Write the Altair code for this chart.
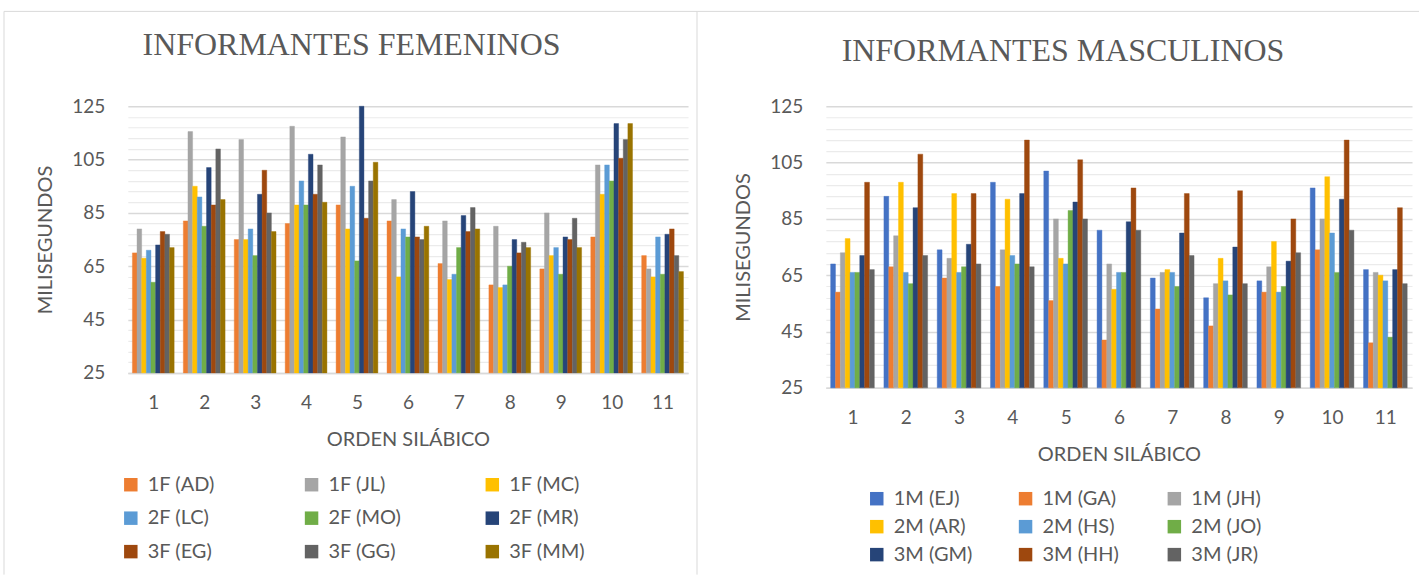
import altair as alt
import pandas as pd

# Syllable position (x categories)
silabas = [str(i) for i in range(1, 12)]

# ---- Female speakers: duration in ms per syllable position ----
fem_series = ["1F (AD)", "1F (JL)", "1F (MC)", "2F (LC)", "2F (MO)",
              "2F (MR)", "3F (EG)", "3F (GG)", "3F (MM)"]
fem_colors = ["#ED7D31", "#A5A5A5", "#FFC000", "#5B9BD5", "#70AD47",
              "#264478", "#9E480E", "#636363", "#997300"]
f_ad = [70, 82, 75, 81, 88, 82, 66, 58, 64, 76, 69]
f_jl = [79, 115.5, 112.5, 117.5, 113.5, 90, 82, 80, 85, 103, 64]
f_mc = [68, 95, 75, 88, 79, 61, 60, 57, 69, 92, 61]
f_lc = [71, 91, 79, 97, 95, 79, 62, 58, 72, 103, 76]
f_mo = [59, 80, 69, 88, 67, 76, 72, 65, 62, 97, 62]
f_mr = [73, 102, 92, 107, 125, 93, 84, 75, 76, 118.5, 77]
f_eg = [78, 88, 101, 92, 83, 76, 78, 70, 75, 105.5, 79]
f_gg = [77, 109, 85, 103, 97, 75, 87, 74, 83, 112.5, 69]
f_mm = [72, 90, 78, 89, 104, 80, 79, 72, 72, 118.5, 63]
fem_values = [f_ad, f_jl, f_mc, f_lc, f_mo, f_mr, f_eg, f_gg, f_mm]

# ---- Male speakers ----
mas_series = ["1M (EJ)", "1M (GA)", "1M (JH)", "2M (AR)", "2M (HS)",
              "2M (JO)", "3M (GM)", "3M (HH)", "3M (JR)"]
mas_colors = ["#4472C4", "#ED7D31", "#A5A5A5", "#FFC000", "#5B9BD5",
              "#70AD47", "#264478", "#9E480E", "#636363"]
m_ej = [69, 93, 74, 98, 102, 81, 64, 57, 63, 96, 67]
m_ga = [59, 68, 64, 61, 56, 42, 53, 47, 59, 74, 41]
m_jh = [73, 79, 71, 74, 85, 69, 66, 62, 68, 85, 66]
m_ar = [78, 98, 94, 92, 71, 60, 67, 71, 77, 100, 65]
m_hs = [66, 66, 66, 72, 69, 66, 66, 63, 59, 80, 63]
m_jo = [66, 62, 68, 69, 88, 66, 61, 58, 61, 66, 43]
m_gm = [72, 89, 76, 94, 91, 84, 80, 75, 70, 92, 67]
m_hh = [98, 108, 94, 113, 106, 96, 94, 95, 85, 113, 89]
m_jr = [67, 72, 69, 68, 85, 81, 72, 62, 73, 81, 62]
mas_values = [m_ej, m_ga, m_jh, m_ar, m_hs, m_jo, m_gm, m_hh, m_jr]

y_ticks = list(range(25, 126, 4))

TEXT = "#595959"
GRID_MAJOR = "#d9d9d9"
GRID_MINOR = "#ebebeb"
SANS = "Lato"

# Share of each syllable slot taken by its cluster of bars
CLUSTER = 0.82


def long_table(series, values):
    rows = []
    for j, (name, vals) in enumerate(zip(series, values)):
        for i, (s, v) in enumerate(zip(silabas, vals)):
            rows.append({"silaba": s, "i": i, "j": j, "serie": name, "ms": v})
    return pd.DataFrame(rows)


def frame_rule(**enc):
    return alt.Chart(pd.DataFrame({"borde": [0]})).mark_rule(
        color="#d9d9d9", strokeWidth=1
    ).encode(**enc)


def panel(series, values, colors, title, width, height, title_offset,
          title_dx, legend_x, legend_y, col_pad, row_pad, rules):
    df = long_table(series, values)
    n = len(series)
    slot = CLUSTER / n
    bars = alt.Chart(df).transform_calculate(
        x0=f"datum.i + {(1 - CLUSTER) / 2} + datum.j * {slot}",
        x1=f"datum.i + {(1 - CLUSTER) / 2} + (datum.j + 1) * {slot}",
    ).mark_bar(strokeWidth=0.4).encode(
        x=alt.X(
            "x0:Q", title="ORDEN SILÁBICO",
            scale=alt.Scale(domain=[0, len(silabas)], nice=False, zero=False),
            axis=alt.Axis(
                values=[k + 0.5 for k in range(len(silabas))],
                labelExpr="format(floor(datum.value) + 1, 'd')",
                grid=False, ticks=False, domainColor=GRID_MAJOR,
                domainWidth=1.5, labelPadding=21, titlePadding=17,
            ),
        ),
        x2="x1:Q",
        y=alt.Y(
            "ms:Q", title="MILISEGUNDOS",
            scale=alt.Scale(domain=[25, 125], zero=False, nice=False),
            axis=alt.Axis(
                values=y_ticks, domain=False, ticks=False, labelPadding=23,
                titlePadding=16,
                labelExpr="(datum.value - 25) % 20 === 0 ? datum.label : ''",
                gridColor={"condition": {"test": "(datum.value - 25) % 20 === 0",
                                         "value": GRID_MAJOR},
                           "value": GRID_MINOR},
                gridWidth={"condition": {"test": "(datum.value - 25) % 20 === 0",
                                         "value": 1.5},
                           "value": 1.2},
            ),
        ),
        y2=alt.datum(25),
        color=alt.Color(
            "serie:N", sort=series,
            scale=alt.Scale(domain=series, range=colors),
            legend=alt.Legend(
                title=None, orient="none", legendX=legend_x, legendY=legend_y,
                direction="horizontal", columns=3, gridAlign="all",
                columnPadding=col_pad, rowPadding=row_pad,
                symbolType="square", symbolSize=182, symbolStrokeWidth=0,
                labelOffset=7, padding=0,
                labelFont=SANS, labelFontSize=20, labelColor=TEXT,
            ),
        ),
        stroke=alt.Stroke(
            "serie:N", sort=series,
            scale=alt.Scale(domain=series, range=colors), legend=None,
        ),
    )
    layers = [bars] + rules
    return alt.layer(*layers).properties(
        width=width, height=height,
        title=alt.TitleParams(
            title, font="Liberation Serif", fontSize=32, fontWeight="normal",
            color=TEXT, anchor="middle", frame="bounds", baseline="alphabetic",
            offset=title_offset, dx=title_dx,
        ),
    )


left = panel(
    fem_series, fem_values, fem_colors, "INFORMANTES FEMENINOS",
    561, 267, -76, 1, -7, 369, 78, 13.5,
    [
        frame_rule(x=alt.value(-124), y=alt.value(-95), y2=alt.value(469)),
        frame_rule(x=alt.value(-124), x2=alt.value(570), y=alt.value(-95)),
        frame_rule(x=alt.value(570), y=alt.value(-95), y2=alt.value(469)),
    ],
)

right = panel(
    mas_series, mas_values, mas_colors, "INFORMANTES MASCULINOS",
    587, 282, -82, 5, 41, 383, 43, 8,
    [
        frame_rule(x=alt.value(-129), x2=alt.value(594), y=alt.value(-95)),
    ],
)

chart = alt.hconcat(left, right, spacing=138, bounds="flush").resolve_scale(
    color="independent", stroke="independent",
    x="independent", y="independent"
).properties(
    padding={"left": 3, "top": 10, "right": 0, "bottom": 0},
).configure_view(
    strokeWidth=0
).configure_axis(
    labelFont=SANS, labelFontSize=19, labelColor=TEXT,
    titleFont=SANS, titleFontSize=20, titleFontWeight="normal", titleColor=TEXT,
)

chart.save("out.html", embed_options={"renderer": "svg", "actions": False})
